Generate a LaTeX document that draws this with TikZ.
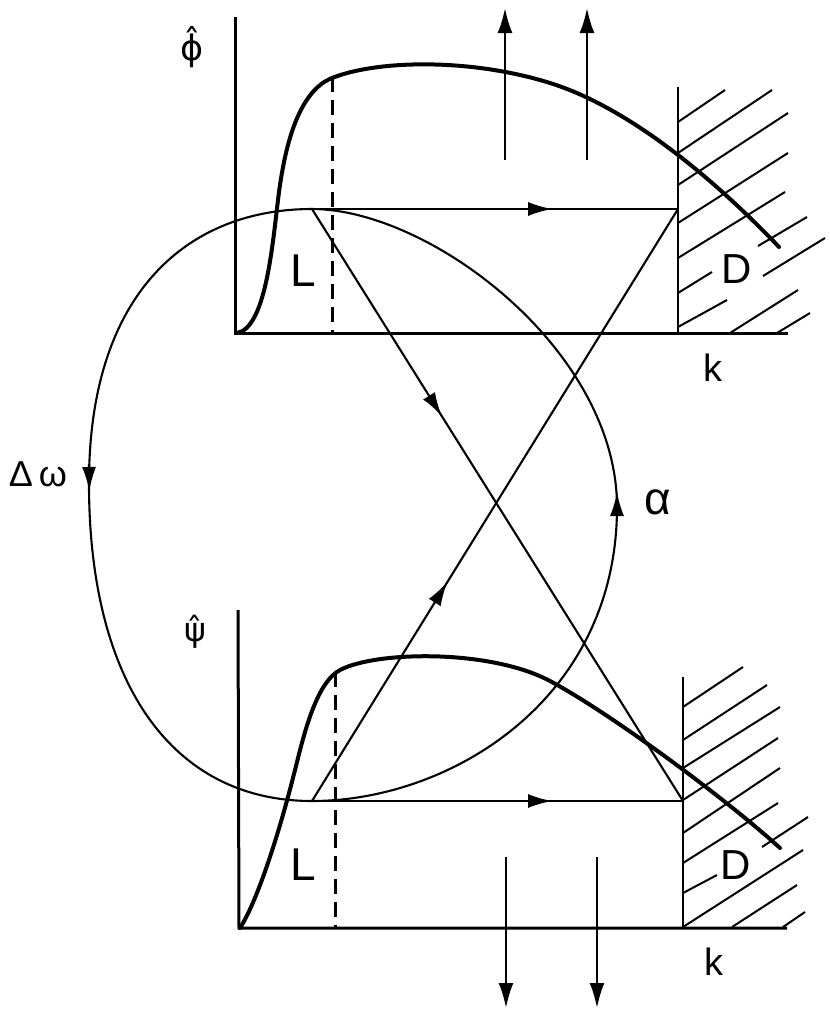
\documentclass[tikz,border=0pt]{standalone}
\usepackage{fontspec}
\setmainfont{Liberation Sans}
\newfontfamily\dv{DejaVu Sans}
\usetikzlibrary{arrows.meta,decorations.markings}
\tikzset{
  thinln/.style={line width=2.1pt},
  axisln/.style={line width=3pt},
  thickcurve/.style={line width=4pt, line join=round, line cap=round},
  hatchln/.style={line width=2pt},
  wallln/.style={line width=2.2pt},
  dashln/.style={line width=3pt, dash pattern=on 15pt off 8pt},
  headtip/.style={-{Latex[length=24pt,width=14pt]}},
  vecarrow/.style={line width=2.4pt, -{Latex[length=25pt,width=15pt]}},
  flow/.style={thinln, postaction={decorate},
    decoration={markings, mark=at position #1 with {\arrow{Latex[length=24pt,width=14pt]}}}},
  lab/.style={inner sep=0pt, font=\fontsize{46}{46}\selectfont},
}
\begin{document}
\begin{tikzpicture}[x=1pt,y=-1pt]
\useasboundingbox (0,0) rectangle (830,1023);
% key points
\coordinate (TL) at (312,209);
\coordinate (TR) at (678,209);
\coordinate (BL) at (312,801);
\coordinate (BR) at (683,801);
\coordinate (LW) at (89,480);
\coordinate (RA) at (617,507);

% ---------- top panel ----------
\coordinate (O1) at (235,333);
\coordinate (Y1) at (235,17);
\coordinate (X1) at (788,333);
\draw[axisln] (Y1) -- (O1) -- (X1);
\coordinate (W1t) at (678,87);
\coordinate (W1b) at (678,333);
\draw[wallln] (W1t) -- (W1b);
\draw[hatchln] (678,122) -- (725,90);
\draw[hatchln] (678,153) -- (772,90);
\draw[hatchln] (678,185) -- (788,113);
\draw[hatchln] (678,223) -- (788,153);
\draw[hatchln] (678,258) -- (785,192);
\draw[hatchln] (678,293) -- (712,272);
\draw[hatchln] (758,246) -- (807,217);
\draw[hatchln] (678,327) -- (727,300);
\draw[hatchln] (763,276) -- (825,238);
\draw[hatchln] (730,333) -- (798,290);
\draw[hatchln] (777,333) -- (810,313);
\draw[dashln] (332,77) -- (332,333);
\draw[thickcurve] (237,333) .. controls (265,328) and (272,250) .. (278,200)
  .. controls (284,150) and (297,92) .. (332,78)
  .. controls (377,60) and (470,58) .. (550,83)
  .. controls (630,108) and (715,180) .. (779,247);
\draw[vecarrow] (505,160) -- (505,8);
\draw[vecarrow] (587,160) -- (587,8);
\node[lab, font=\dv\fontsize{35}{35}\selectfont] (phi) at (192,47) {\accent"02C6 ϕ};
\node[lab] (Ltop) at (303,271) {L};
\node[lab, font=\fontsize{42}{42}\selectfont] (Dtop) at (737,269) {D};
\node[lab, font=\fontsize{38}{38}\selectfont] (ktop) at (713,368) {k};

% ---------- bottom panel ----------
\coordinate (O2) at (239,928);
\coordinate (Y2) at (238,610);
\coordinate (X2) at (787,928);
\draw[axisln] (Y2) -- (O2) -- (X2);
\coordinate (W2t) at (683,677);
\coordinate (W2b) at (683,928);
\draw[wallln] (W2t) -- (W2b);
\draw[hatchln] (683,707) -- (743,667);
\draw[hatchln] (683,740) -- (767,685);
\draw[hatchln] (683,768) -- (780,707);
\draw[hatchln] (683,800) -- (778,738);
\draw[hatchln] (683,833) -- (780,768);
\draw[hatchln] (683,863) -- (778,803);
\draw[hatchln] (683,893) -- (717,875);
\draw[hatchln] (762,847) -- (808,817);
\draw[hatchln] (683,927) -- (803,850);
\draw[hatchln] (732,927) -- (797,885);
\draw[hatchln] (783,927) -- (805,912);
\draw[dashln] (335,672) -- (335,928);
\draw[thickcurve] (240,928) .. controls (258,900) and (280,830) .. (295,770)
  .. controls (304,734) and (316,683) .. (340,670)
  .. controls (376,651) and (490,649) .. (550,681)
  .. controls (610,713) and (725,798) .. (780,848);
\draw[vecarrow] (506,857) -- (506,1008);
\draw[vecarrow] (597,857) -- (597,1008);
\node[lab, font=\dv\fontsize{33}{33}\selectfont] (psi) at (195,632) {\accent"02C6 ψ};
\node[lab] (Lbot) at (303,865) {L};
\node[lab, font=\fontsize{42}{42}\selectfont] (Dbot) at (736,865) {D};
\node[lab, font=\fontsize{38}{38}\selectfont] (kbot) at (714,962) {k};

% ---------- flow network ----------
\draw[flow=0.656] (TL) -- (TR);
\draw[flow=0.647] (BL) -- (BR);
\draw[flow=0.35] (TL) -- (BR);
\draw[flow=0.37] (BL) -- (TR);
% closed loop: left side (Delta omega) down, right side (alpha) up
\draw[thinln] (TL) .. controls (190,209) and (90,290) .. (LW)
  .. controls (88,680) and (170,801) .. (BL)
  .. controls (450,801) and (617,700) .. (RA)
  .. controls (617,350) and (430,209) .. (TL);
\draw[thinln, headtip] (89,464) -- (89.3,491);
\draw[thinln, headtip] (617,520) -- (617,492);
\node[lab, font=\fontsize{36}{36}\selectfont] (dw) at (38,474) {Δ\hspace{6pt}ω};
\node[lab, font=\fontsize{46}{46}\selectfont] (al) at (658,502) {α};
\end{tikzpicture}
\end{document}
